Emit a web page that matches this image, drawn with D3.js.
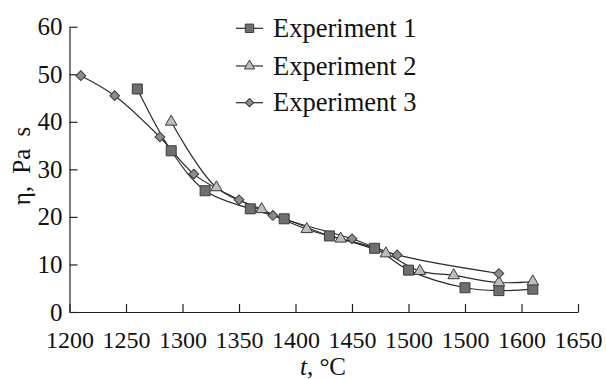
<!DOCTYPE html>
<html><head><meta charset="utf-8">
<script src="https://cdn.jsdelivr.net/npm/d3@7"></script>
<style>body{margin:0;background:#fff}svg{display:block}</style>
</head><body><svg id="c" width="606" height="379"></svg>
<script>
const xTickValues = [1200,1250,1300,1350,1400,1450,1500,1550,1600,1650];
const xTickLabels = ["1200","1250","1300","1350","1400","1450","1500","1500","1600","1650"];
const yTickValues = [0,10,20,30,40,50,60];
const exp1T = [1260,1290,1320,1360,1390,1430,1470,1500,1550,1580,1610];
const exp1V = [46.9,33.9,25.5,21.7,19.6,16.0,13.4,8.8,5.1,4.5,4.8];
const exp2T = [1290,1330,1370,1410,1440,1480,1510,1540,1580,1610];
const exp2V = [40.0,26.2,21.6,17.4,15.4,12.3,8.6,7.7,6.2,6.4];
const exp3T = [1210,1240,1280,1310,1350,1380,1450,1490,1580];
const exp3V = [49.7,45.5,36.8,29.0,23.6,20.3,15.4,12.0,8.1];
const seriesNames = ["Experiment 1","Experiment 2","Experiment 3"];

const svg = d3.select("#c");
const x = d3.scaleLinear().domain([1200,1650]).range([69.5,578]);
const y = d3.scaleLinear().domain([0,60]).range([312,26.7]);
const font = '"Liberation Serif"';

// axes
const xa = svg.append("g").attr("transform","translate(0,312)")
  .call(d3.axisBottom(x).tickValues(xTickValues).tickSizeInner(-8).tickSizeOuter(0)
    .tickFormat((d,i)=>xTickLabels[i]).tickPadding(19));
const ya = svg.append("g").attr("transform","translate(69.5,0)")
  .call(d3.axisLeft(y).tickValues(yTickValues).tickSizeInner(-8).tickSizeOuter(0).tickPadding(7));
[xa,ya].forEach(g=>{
  g.select(".domain").attr("stroke","#222").attr("stroke-width",1.2);
  g.selectAll(".tick line").attr("stroke","#222").attr("stroke-width",1.2);
  g.selectAll(".tick text").style("font-family",font).attr("fill","#111");
});
xa.selectAll(".tick text").style("font-size","24px");
ya.selectAll(".tick text").style("font-size","25px");

// titles
const xt = svg.append("text").attr("x",323).attr("y",375).attr("text-anchor","middle")
  .style("font-family",font).style("font-size","25px").attr("fill","#111");
xt.append("tspan").attr("font-style","italic").text("t");
xt.append("tspan").text(", °C");
svg.append("text").attr("transform","translate(30,166) rotate(-90)").attr("text-anchor","middle")
  .style("word-spacing","6px")
  .style("font-family",font).style("font-size","25px").attr("fill","#111").text("η, Pa s");

const styles = [
  {fill:"#6f6f6f", sym:d3.symbolSquare, size:100, rot:0, lsize:70},
  {fill:"#bdbdbd", sym:d3.symbolTriangle, size:58, rot:0, lsize:45},
  {fill:"#8c8c8c", sym:d3.symbolSquare, size:48, rot:45, lsize:34}
];
const data = [
  exp1T.map((t,i)=>({t,v:exp1V[i]})),
  exp2T.map((t,i)=>({t,v:exp2V[i]})),
  exp3T.map((t,i)=>({t,v:exp3V[i]}))
];
const line = d3.line().x(d=>x(d.t)).y(d=>y(d.v)).curve(d3.curveCatmullRom.alpha(0.5));
data.forEach((ds,k)=>{
  svg.append("path").attr("d",line(ds)).attr("fill","none").attr("stroke","#2a2a2a").attr("stroke-width",1.2);
});
data.forEach((ds,k)=>{
  const s = styles[k];
  svg.append("g").selectAll("path").data(ds).join("path")
    .attr("d",d3.symbol().type(s.sym).size(s.size))
    .attr("transform",d=>`translate(${x(d.t)},${y(d.v)}) rotate(${s.rot})`)
    .attr("fill",s.fill).attr("stroke","#3a3a3a").attr("stroke-width",1);
});

// legend
const legY = [28.3,66,102.7];
seriesNames.forEach((n,k)=>{
  const s = styles[k];
  const g = svg.append("g").attr("transform",`translate(0,${legY[k]})`);
  g.append("line").attr("x1",236).attr("x2",263).attr("y1",0).attr("y2",0).attr("stroke","#2a2a2a").attr("stroke-width",1.2);
  g.append("path").attr("d",d3.symbol().type(s.sym).size(s.lsize)).attr("transform",`translate(249.5,0) rotate(${s.rot})`)
    .attr("fill",s.fill).attr("stroke","#3a3a3a").attr("stroke-width",1);
  g.append("text").attr("x",273).attr("y",8.5).style("font-family",font).style("font-size","26.5px").attr("fill","#111").text(n);
});
</script></body></html>
